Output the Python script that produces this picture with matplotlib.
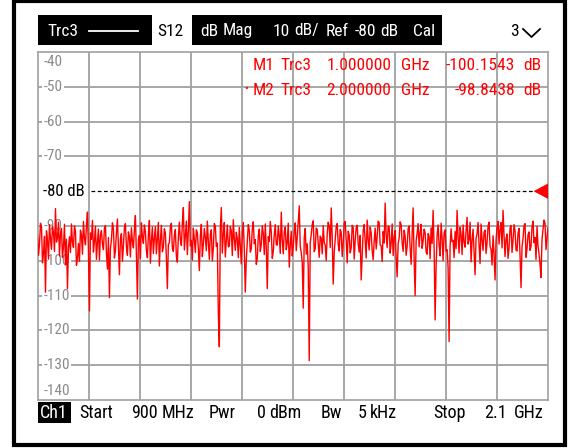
import numpy as np
import matplotlib
matplotlib.use("Agg")
import matplotlib.pyplot as plt
from matplotlib.patches import Rectangle, Polygon
from matplotlib.lines import Line2D

# ---------------- data ----------------
start_mhz = 900.0
stop_mhz = 2100.0
ref_level = -80.0
y_top, y_bottom = -40, -140
y_ticks = [-40, -50, -60, -70, -90, -100, -110, -120, -130, -140]

trace_db = [
    -92.5, -98.4, -95.1, -89.2, -90.3, -100.6, -97.8, -93.0, -109.0, -91.4, -94.2, -99.5, -89.6, -93.7, -96.7, -90.1,
    -91.8, -97.3, -85.0, -94.6, -93.4, -88.9, -98.6, -92.2, -90.7, -99.0, -95.9, -89.5, -101.2, -93.8, -108.0, -96.2,
    -93.1, -97.6, -89.4, -94.8, -96.2, -90.0, -91.5, -101.3, -99.3, -95.0, -100.2, -91.2, -92.6, -98.1, -88.7, -93.5,
    -95.4, -89.8, -86.0, -97.2, -114.4, -92.0, -93.8, -88.4, -97.5, -94.3, -90.1, -99.6, -94.6, -90.9, -99.8, -92.7,
    -91.3, -95.2, -96.8, -90.6, -89.9, -97.7, -102.4, -93.3, -110.6, -96.5, -94.0, -89.1, -90.8, -99.2, -97.1, -91.9,
    -88.0, -95.8, -104.0, -93.6, -92.2, -100.1, -95.7, -90.4, -89.3, -96.0, -98.4, -91.7, -93.0, -98.9, -90.5, -94.4,
    -96.3, -91.0, -87.0, -98.3, -111.0, -93.9, -92.7, -99.4, -89.1, -93.1, -95.0, -89.7, -91.6, -97.0, -99.1, -92.4,
    -88.4, -100.7, -94.3, -90.3, -97.9, -93.4, -90.2, -98.0, -93.6, -89.0, -101.5, -94.1, -89.8, -97.4, -96.1, -90.8,
    -92.0, -99.0, -108.0, -95.3, -94.8, -90.2, -89.2, -96.4, -97.3, -92.6, -91.0, -98.7, -100.4, -93.2, -88.9, -94.0,
    -95.6, -89.4, -84.7, -96.9, -92.9, -88.6, -98.2, -91.3, -83.0, -95.7, -94.1, -99.8, -90.6, -93.7, -97.6, -91.1,
    -91.9, -96.6, -102.8, -93.0, -89.5, -98.8, -95.2, -90.7, -93.3, -97.1, -88.6, -94.5, -99.6, -92.3, -91.1, -100.0,
    -96.4, -89.3, -90.0, -95.9, -94.9, -115.0, -124.7, -90.5, -84.7, -97.8, -92.4, -89.0, -98.9, -94.2, -89.7, -96.0,
    -95.8, -90.1, -91.4, -98.5, -88.2, -93.6, -97.0, -91.8, -93.7, -99.1, -90.4, -95.5, -100.9, -92.1, -89.0, -96.7,
    -109.0, -99.7, -94.5, -89.6, -91.2, -97.5, -96.6, -90.9, -88.8, -95.1, -93.9, -101.0, -99.4, -92.8, -90.9, -97.3,
    -95.3, -89.9, -92.1, -98.2, -89.4, -96.1, -108.0, -93.1, -94.4, -88.7, -91.7, -99.3, -97.4, -92.5, -89.6, -95.4,
    -95.5, -90.0, -92.8, -97.9, -86.0, -94.0, -98.0, -91.6, -90.3, -96.8, -94.7, -89.2, -101.8, -95.6, -91.5, -98.6,
    -96.0, -91.6, -89.1, -97.1, -93.2, -88.8, -84.2, -95.9, -97.7, -100.5, -113.6, -93.4, -90.7, -98.1, -95.1, -101.7,
    -128.7, -94.8, -92.5, -89.5, -88.5, -97.4, -96.5, -90.6, -91.0, -95.2, -99.0, -92.9, -93.5, -98.0, -89.9, -94.7,
    -95.6, -99.9, -92.3, -88.9, -90.1, -96.2, -84.8, -93.0, -106.7, -97.6, -94.0, -90.2, -89.3, -95.3, -97.2, -91.0,
    -91.8, -98.8, -95.0, -89.1, -88.7, -94.1, -100.6, -91.5, -92.6, -97.7, -96.3, -89.8, -90.4, -99.5, -94.2, -90.5,
    -89.8, -95.0, -97.5, -92.7, -105.5, -98.3, -91.4, -89.6, -94.6, -99.2, -88.3, -93.9, -96.9, -90.3, -92.0, -97.0,
    -99.7, -94.4, -90.6, -96.6, -93.1, -88.6, -89.0, -95.4, -95.7, -100.2, -91.6, -94.9, -83.4, -92.6, -96.2, -90.0,
    -90.2, -97.8, -94.9, -89.4, -98.5, -93.2, -91.3, -99.0, -104.6, -95.1, -93.4, -88.8, -89.6, -94.8, -97.3, -91.2,
    -92.9, -98.4, -95.8, -90.7, -90.0, -96.3, -101.0, -92.4, -84.8, -99.6, -110.0, -94.3, -92.1, -89.3, -96.0, -91.9,
    -89.5, -96.4, -94.3, -90.9, -91.9, -97.5, -98.1, -92.2, -93.0, -99.4, -90.5, -95.0, -85.5, -96.1, -117.0, -101.5,
    -92.7, -89.7, -95.4, -98.6, -89.2, -93.6, -99.9, -92.0, -91.1, -97.2, -96.8, -101.9, -123.2, -95.7, -90.8, -94.5,
    -94.1, -99.1, -91.6, -96.5, -85.5, -93.3, -97.8, -90.4, -92.4, -98.2, -89.7, -94.6, -96.1, -91.4, -87.5, -95.2,
    -93.8, -88.9, -100.3, -94.0, -90.9, -97.4, -104.0, -93.5, -92.2, -89.0, -95.5, -100.8, -89.4, -93.9, -97.0, -91.8,
    -91.2, -97.9, -94.7, -90.0, -88.9, -95.9, -96.7, -101.2, -92.8, -98.0, -105.5, -94.1, -90.3, -88.7, -95.2, -91.0,
    -89.0, -96.3, -85.5, -92.7, -98.8, -93.6, -92.3, -99.3, -96.4, -90.6, -89.9, -97.6, -94.0, -89.6, -91.4, -96.9,
    -97.2, -92.1, -90.7, -98.4, -107.7, -96.0, -93.6, -89.9, -89.3, -99.0, -96.5, -92.5, -91.7, -97.0, -95.9, -90.2,
    -88.6, -94.8, -93.3, -99.6, -90.1, -95.6, -97.9, -100.9, -104.8, -93.8, -91.0, -88.3, -89.2, -96.8, -93.5, -90.4,
]
freq_mhz = np.linspace(start_mhz, stop_mhz, len(trace_db))

marker_lines = [
    ("M1", "Trc3", "1.000000", "GHz", "-100.1543", "dB"),
    ("M2", "Trc3", "2.000000", "GHz", "-98.8438", "dB"),
]
header_words = ["Trc3", "S12", "dB", "Mag", "10", "dB/", "Ref", "-80", "dB", "Cal"]
footer_words = ["Ch1", "Start", "900", "MHz", "Pwr", "0", "dBm", "Bw", "5", "kHz", "Stop", "2.1", "GHz"]

# ---------------- figure ----------------
W, H = 571, 448
FONT = ['Roboto Condensed', 'Open Sans Condensed', 'Liberation Sans Narrow', 'Roboto', 'DejaVu Sans']
plt.rcParams['font.family'] = FONT
fig = plt.figure(figsize=(W / 100, H / 100), dpi=100)

def fx(x):
    return x / W

def fy(y):
    return 1 - y / H

L, R, T, B = 37.5, 548.0, 52.0, 400.0
ax = fig.add_axes([fx(L), fy(B), fx(R) - fx(L), fy(T) - fy(B)])
ax.set_xlim(start_mhz, stop_mhz)
ax.set_ylim(y_bottom, y_top)
ax.set_xticks([])
ax.set_yticks([])
for s in ax.spines.values():
    s.set_color('#a0a0a0')
    s.set_linewidth(1.2)

grid_c = '#a0a0a0'
for f in np.linspace(start_mhz, stop_mhz, 11)[1:-1]:
    ax.axvline(f, color=grid_c, lw=1.3, zorder=1)
for v in y_ticks[1:-1]:
    ax.axhline(v, color=grid_c, lw=1.3, zorder=1)

# y labels (inside plot, white background)
for v in y_ticks:
    yy = v
    va = 'center'
    if v == y_top:
        yy = v - 1.0
        va = 'top'
    if v == y_bottom:
        yy = v + 0.5
        va = 'bottom'
    ax.text(start_mhz + 14, yy, f"{v}", color='#8a8a8a', fontsize=11,
            ha='left', va=va, zorder=2,
            bbox=dict(boxstyle='square,pad=0.1', fc='white', ec='none'))

# reference line
ax.plot([start_mhz + 125, stop_mhz - 35], [ref_level, ref_level], color='black',
        lw=0.9, ls=(0, (3, 2)), zorder=2)
ax.text(start_mhz + 14, ref_level, "-80 dB", color='black', fontsize=12,
        ha='left', va='center', zorder=2)
ax.add_patch(Polygon([[stop_mhz - 34, ref_level], [stop_mhz, ref_level + 2.2],
                      [stop_mhz, ref_level - 2.2]], closed=True, fc='#ff0000',
                     ec='none', zorder=4, clip_on=False))

# trace
ax.plot(freq_mhz, trace_db, color='#ff0000', lw=1.0, zorder=3, clip_on=True)

# marker text
mx = [253, 280, 326.5, 401.5, 515, 523]
for yline, items in zip([66, 90], marker_lines):
    for k, (x, s) in enumerate(zip(mx, items)):
        ha = 'right' if k == 4 else 'left'
        fig.text(fx(x), fy(yline), s, color='#ff0000', fontsize=12.5,
                 ha=ha, va='center', zorder=5)
fig.text(fx(246), fy(89), "•", color='#ff0000', fontsize=8, ha='center', va='center')

# header bar
fig.add_artist(Rectangle((fx(37.5), fy(45)), fx(442) - fx(37.5), fy(15) - fy(45),
                         transform=fig.transFigure, fc='black', ec='none'))
fig.add_artist(Rectangle((fx(152), fy(45)), fx(192) - fx(152), fy(15) - fy(45),
                         transform=fig.transFigure, fc='white', ec='none'))
fig.add_artist(Line2D([fx(89), fx(138)], [fy(31), fy(31)], color='white', lw=1.3,
                      transform=fig.transFigure))
hx = [47, 157, 200, 222.5, 273, 294, 326, 355, 380.5, 413]
for x, s in zip(hx, header_words):
    fig.text(fx(x), fy(31), s, color='black' if s == 'S12' else 'white',
             fontsize=12.5, ha='left', va='center')
fig.text(fx(510), fy(32), "3", color='black', fontsize=12.5, ha='left', va='center')
fig.add_artist(Line2D([fx(523), fx(531.5), fx(540)], [fy(29), fy(37), fy(29)],
                      color='black', lw=1.3, transform=fig.transFigure))

# footer
fig.add_artist(Rectangle((fx(37.5), fy(423)), fx(71) - fx(37.5), fy(402) - fy(423),
                         transform=fig.transFigure, fc='black', ec='none'))
fxs = [39.5, 79.5, 131, 161.5, 209, 256.5, 269.5, 320.5, 358, 370, 433, 484, 513.5]
for x, s in zip(fxs, footer_words):
    fig.text(fx(x), fy(413), s, color='white' if s == 'Ch1' else 'black',
             fontsize=13, ha='left', va='center')

# outer frame
fig.add_artist(Rectangle((fx(13.5), fy(445)), fx(565) - fx(13.5), fy(1.5) - fy(445),
                         transform=fig.transFigure, fc='none', ec='black', lw=3.0))

fig.savefig("out.png", dpi=100)
